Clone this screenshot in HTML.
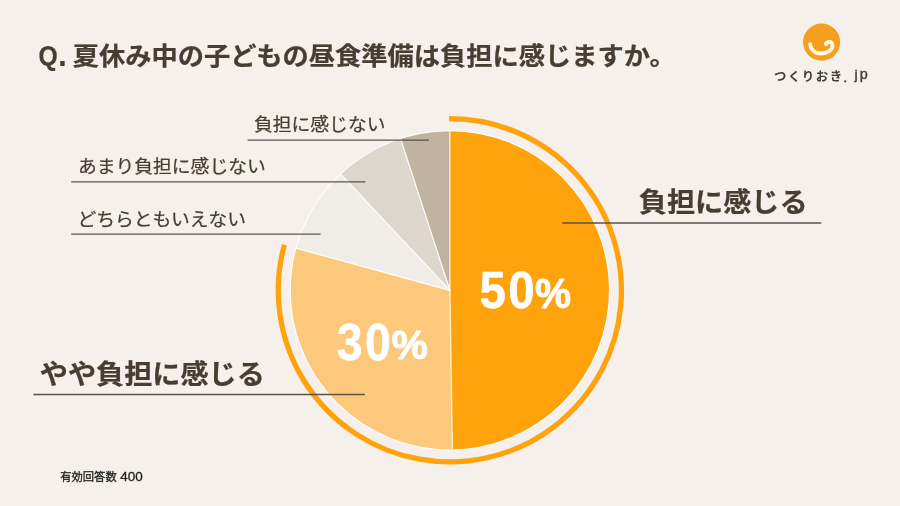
<!DOCTYPE html>
<html lang="ja">
<head>
<meta charset="utf-8">
<title>夏休み中の子どもの昼食準備は負担に感じますか</title>
<style>
html,body{margin:0;padding:0;background:#F5F0EB;}
body{width:900px;height:506px;overflow:hidden;font-family:"Liberation Sans","Noto Sans CJK JP",sans-serif;}
svg{display:block}
</style>
</head>
<body>
<svg width="900" height="506" viewBox="0 0 900 506" font-family="'Liberation Sans', 'Noto Sans CJK JP', sans-serif">
<rect width="900" height="506" fill="#F5F0EB"/>
<g id="pie">
<path d="M449.85 290.30L449.85 130.60A159.7 159.7 0 0 1 452.36 449.98Z" fill="#FFA30D"/>
<path d="M449.85 290.30L452.36 449.98A159.7 159.7 0 0 1 295.81 248.16Z" fill="#FCC97C"/>
<path d="M449.85 290.30L295.81 248.16A159.7 159.7 0 0 1 340.53 173.88Z" fill="#F0EDE9"/>
<path d="M449.85 290.30L340.53 173.88A159.7 159.7 0 0 1 400.50 138.42Z" fill="#DDD6CC"/>
<path d="M449.85 290.30L400.50 138.42A159.7 159.7 0 0 1 449.85 130.60Z" fill="#C2B3A0"/>
<g stroke="#FFFEFA" stroke-width="1.2" stroke-linecap="round">
<line x1="449.85" y1="290.30" x2="449.85" y2="130.60" stroke="#FFEFC6" stroke-width="1.4"/>
<line x1="449.85" y1="290.30" x2="452.36" y2="449.98" stroke="#FFEFC6" stroke-width="1.4"/>
<line x1="449.85" y1="290.30" x2="295.81" y2="248.16"/>
<line x1="449.85" y1="290.30" x2="340.53" y2="173.88"/>
<line x1="449.85" y1="290.30" x2="400.50" y2="138.42"/>
</g>
<circle cx="449.85" cy="290.3" r="159.7" fill="none" stroke="#FFFEFA" stroke-width="1.2"/>
<path d="M449.10 118.70A171.6 171.6 0 1 1 284.41 244.73" fill="none" stroke="#FFA30D" stroke-width="5.25"/>
</g>
<g id="leaders" stroke="#5A524C" stroke-width="1.33">
<line x1="247.6" y1="140.1" x2="428.9" y2="140.1"/>
<line x1="71.2" y1="181.8" x2="365.3" y2="181.8"/>
<line x1="71.2" y1="234.2" x2="320.6" y2="234.2"/>
<line x1="562.4" y1="223.0" x2="821.3" y2="223.0"/>
<line x1="33.4" y1="394.5" x2="364.8" y2="394.5"/>
</g>
<g id="title" font-size="26.25" font-weight="700" fill="#473D31" stroke="#473D31" stroke-width="0.25">
<text transform="translate(38.5 65.1) scale(0.885 1)" font-size="28">Q<tspan font-size="34" dx="0.5" dy="0.9">.</tspan></text>
<text transform="translate(72.7 64.8) scale(1 0.96)">夏休み中の子どもの昼食準備は負担に感じますか。</text>
</g>
<g id="small-labels" font-size="18.8" fill="#473D31" stroke="#473D31" stroke-width="0.25">
<text transform="translate(254 130.9) scale(1 0.96)">負担に感じない</text>
<text transform="translate(77.95 172.5) scale(1 0.96)">あまり負担に感じない</text>
<text transform="translate(77.4 225.6) scale(1 0.96)">どちらともいえない</text>
</g>
<g id="big-labels" font-size="28.15" font-weight="700" fill="#473D31" stroke="#473D31" stroke-width="0.25">
<text transform="translate(638.8 211.5) scale(1 0.96)">負担に感じる</text>
<text transform="translate(39.8 383.75) scale(1 0.96)">やや負担に感じる</text>
</g>
<g id="percent" font-weight="700" fill="#ffffff" stroke="#ffffff" stroke-linejoin="round" stroke-width="0.5" font-size="51.3" letter-spacing="2.6">
<text transform="translate(479.4 308.2) scale(0.925 1)">50<tspan x="60.1" dy="-0.2" font-size="42" letter-spacing="0" stroke-width="0.9" textLength="38.96" lengthAdjust="spacingAndGlyphs">%</tspan></text>
<text transform="translate(336.8 359.6) scale(0.905 1)">30<tspan x="60.33" dy="-0.2" font-size="40.4" letter-spacing="0" stroke-width="0.9" textLength="40.09" lengthAdjust="spacingAndGlyphs">%</tspan></text>
</g>
<g id="footnote" font-size="11.3" fill="#222222" stroke="#222222" stroke-width="0.3">
<text x="60.2" y="481.1">有効回答数</text>
<text transform="translate(120.3 481.2) scale(1.06 1)" font-size="12.7">400</text>
</g>
<g id="logo">
<circle cx="821.6" cy="42.1" r="18.6" fill="#F4A01E"/>
<path d="M810.1 44.1C810.4 48.5 813.6 53.5 820.6 53.5C827.6 53.5 832.5 49.8 832.5 45.5C832.5 43.1 831.1 41.8 829.2 41.8C827.3 41.8 826 42.9 826 44.1" fill="none" stroke="#FFF9E6" stroke-width="3.8" stroke-linecap="round"/>
<circle cx="826.1" cy="44.1" r="2.1" fill="#FFF9E6"/>
<text x="774.1" y="80.9" font-size="12.4" font-weight="700" letter-spacing="1.5" fill="#3E3A39">つくりおき<tspan font-size="14.4" font-weight="400" letter-spacing="0" stroke="#3E3A39" stroke-width="0.35"><tspan x="843.3" y="81.8">.</tspan><tspan x="854.7" y="79.3" font-size="12.2" stroke-width="0.55">j</tspan><tspan x="859.7" y="78.9">p</tspan></tspan></text>
</g>
</svg>
</body>
</html>
